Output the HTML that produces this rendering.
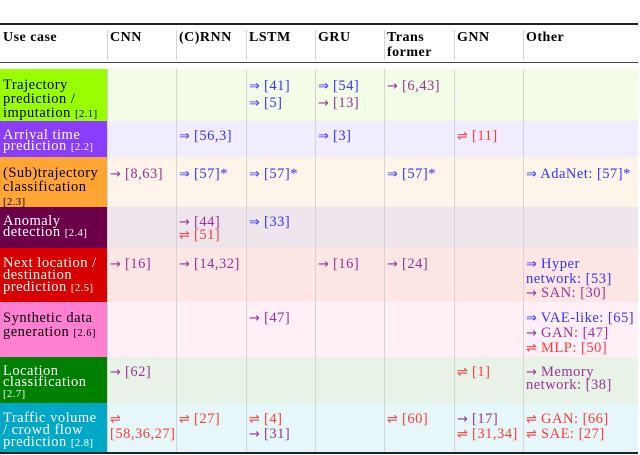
<!DOCTYPE html>
<html><head><meta charset="utf-8"><style>
body{margin:0;width:640px;height:455px;background:#fff;position:relative;overflow:hidden;font-family:"Liberation Serif","DejaVu Serif",serif;}
.a{position:absolute;}
.rule{position:absolute;left:0;width:638px;background:#222;}
.c{position:absolute;font-size:14.5px;letter-spacing:0.5px;line-height:14px;padding:6px 0 0 3px;box-sizing:border-box;white-space:nowrap;}
.h{font-weight:bold;font-size:14px;padding-top:4px;line-height:15px;}
.sep{position:absolute;width:1px;background:#d4d4d4;}
.s{font-size:10.5px;}
.ar{font-family:"DejaVu Sans",sans-serif;font-size:13px;letter-spacing:0;}
.b{color:#3535ff}.p{color:#993399}.r{color:#ff3a3a}
.w{color:#fff}
</style></head><body>
<div class="rule" style="top:23px;height:2px"></div>
<div class="rule" style="top:62px;height:1px;background:#444"></div>
<div class="rule" style="top:452px;height:2px"></div>

<div class="c h" style="left:0;top:26px">Use case</div>
<div class="c h" style="left:107px;top:26px">CNN</div>
<div class="c h" style="left:176px;top:26px">(C)RNN</div>
<div class="c h" style="left:246px;top:26px">LSTM</div>
<div class="c h" style="left:315px;top:26px">GRU</div>
<div class="c h" style="left:384px;top:26px">Trans<br>former</div>
<div class="c h" style="left:454px;top:26px">GNN</div>
<div class="c h" style="left:523px;top:26px">Other</div>

<div id="rows"></div>
<script>
const rows=[
 {n:'trajectory-prediction',t:69,h:52,pt:9,lh:14,clh:16,lab:'Trajectory<br>prediction /<br>imputation <span class="s">[2.1]</span>',lc:'#99ff00',w:0,bg:'#f3fce6',
  cells:['','','<span class="b">⇒ [41]<br>⇒ [5]</span>','<span class="b">⇒ [54]</span><br><span class="p">→ [13]</span>','<span class="p">→ [6,43]</span>','','']},
 {n:'arrival-time',t:121,h:36,pt:9,lh:11,clh:13,lab:'Arrival time<br>prediction <span class="s">[2.2]</span>',lc:'#8b3dff',w:1,bg:'#f2ecff',
  cells:['','<span class="b">⇒ [56,3]</span>','','<span class="b">⇒ [3]</span>','','<span class="r">⇌ [11]</span>','']},
 {n:'trajectory-classification',t:157,h:50,pt:9,lh:14,clh:16,lab:'(Sub)trajectory<br>classification<br><span class="s">[2.3]</span>',lc:'#ffa533',w:0,bg:'#fdf5e9',
  cells:['<span class="p">→ [8,63]</span>','<span class="b">⇒ [57]*</span>','<span class="b">⇒ [57]*</span>','','<span class="b">⇒ [57]*</span>','','<span class="b">⇒ AdaNet: [57]*</span>']},
 {n:'anomaly-detection',t:207,h:41,pt:9,lh:11,clh:13,lab:'Anomaly<br>detection <span class="s">[2.4]</span>',lc:'#6b0048',w:1,bg:'#efe5ed',
  cells:['','<span class="p">→ [44]</span><br><span class="r">⇌ [51]</span>','<span class="b">⇒ [33]</span>','','','','']},
 {n:'next-location',t:248,h:54,pt:9,lh:12,clh:14,lab:'Next location /<br>destination<br>prediction <span class="s">[2.5]</span>',lc:'#d90000',w:1,bg:'#fde6e3',
  cells:['<span class="p">→ [16]</span>','<span class="p">→ [14,32]</span>','','<span class="p">→ [16]</span>','<span class="p">→ [24]</span>','','<span class="b">⇒ Hyper<br>network: [53]</span><br><span class="p">→ SAN: [30]</span>']},
 {n:'synthetic-data',t:302,h:55,pt:9,lh:14,clh:14,lab:'Synthetic data<br>generation <span class="s">[2.6]</span>',lc:'#ff80d2',w:0,bg:'#fff0f8',
  cells:['','','<span class="p">→ [47]</span>','','','','<span class="b">⇒ VAE-like: [65]</span><br><span class="p">→ GAN: [47]</span><br><span class="r">⇌ MLP: [50]</span>']},
 {n:'location-classification',t:357,h:46,pt:9,lh:11,clh:13,lab:'Location<br>classification<br><span class="s">[2.7]</span>',lc:'#008000',w:1,bg:'#e8f2e6',
  cells:['<span class="p">→ [62]</span>','','','','','<span class="r">⇌ [1]</span>','<span class="p">→ Memory<br>network: [38]</span>']},
 {n:'traffic-volume',t:403,h:49,pt:9,lh:12,clh:14,lab:'Traffic volume<br>/ crowd flow<br>prediction <span class="s">[2.8]</span>',lc:'#00a8c8',w:1,bg:'#e5f7f8',
  cells:['<span class="r">⇌<br>[58,36,27]</span>','<span class="r">⇌ [27]</span>','<span class="r">⇌ [4]</span><br><span class="p">→ [31]</span>','','<span class="r">⇌ [60]</span>','<span class="p">→ [17]</span><br><span class="r">⇌ [31,34]</span>','<span class="r">⇌ GAN: [66]</span><br><span class="r">⇌ SAE: [27]</span>']}
];
const cols=['cnn','crnn','lstm','gru','transformer','gnn','other'];
const xs=[0,107,176,246,315,384,454,523,640];
let html='';
rows.forEach(r=>{
 html+=`<div class="a" style="left:107px;top:${r.t}px;width:531px;height:${r.h}px;background:${r.bg}"></div>`;
 html+=`<div class="a" style="left:0;top:${r.t}px;width:107px;height:${r.h}px;background:${r.lc}"></div>`;
});
for(let i=1;i<8;i++){
 html+=`<div class="sep" style="left:${xs[i]}px;top:30px;height:30px"></div>`;
 html+=`<div class="sep" style="left:${xs[i]}px;top:69px;height:383px"></div>`;
}
rows.forEach(r=>{
 html+=`<div class="c${r.w?' w':''}" style="left:0;top:${r.t}px;width:107px;padding-top:${r.pt}px;line-height:${r.lh}px">${r.lab}</div>`;
 r.cells.forEach((c,i)=>{ if(c){ const cc=c.replace(/([⇒→⇌])/g,'<span class="ar">$1</span>'); html+=`<div class="c" style="left:${xs[i+1]}px;top:${r.t}px;padding-top:${r.pt}px;line-height:${r.clh}px;width:${xs[i+2]-xs[i+1]}px">${cc}</div>`;}});
});
document.getElementById('rows').innerHTML=html;
</script>
</body></html>
